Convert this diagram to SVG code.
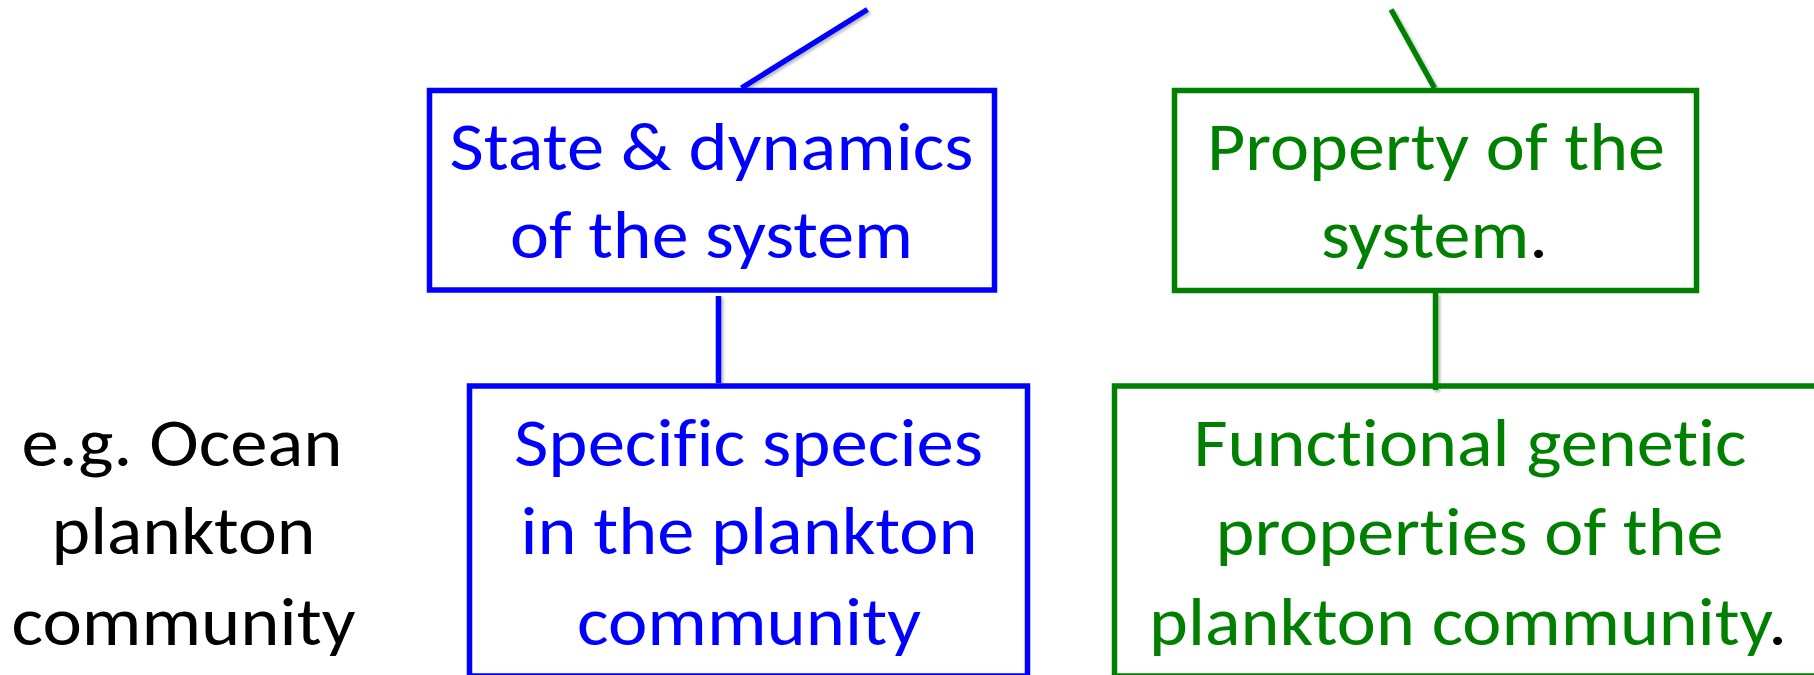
<svg xmlns="http://www.w3.org/2000/svg" width="1814" height="675" viewBox="0 0 1814 675">
  <defs>
    <filter id="soft-shadow" filterUnits="userSpaceOnUse" x="0" y="0" width="1814" height="675">
      <feDropShadow dx="2" dy="2" stdDeviation="1.8" flood-color="#000" flood-opacity="0.28"/>
    </filter>
  </defs>
  <style>
    .box { fill: none; stroke-width: 5.5; }
    .blue { stroke: #0000ff; }
    .green { stroke: #008000; }
    .wire { fill: none; stroke-width: 5.5; filter: url(#soft-shadow); }
    .lbl { font-family: Carlito, Lato, "Open Sans", sans-serif; font-size: 68px; text-anchor: middle; font-variant-ligatures: none; font-feature-settings: "liga" 0, "dlig" 0; }
    .t-blue { fill: #0000ff; }
    .t-green { fill: #008000; }
    .t-black { fill: #000000; }
  </style>

  <rect width="1814" height="675" fill="#ffffff"/>

  <!-- connectors -->
  <g id="connectors">
    <line class="wire blue" x1="867.5" y1="9.5" x2="741.5" y2="88"/>
    <line class="wire green" x1="1391" y1="9.5" x2="1434.5" y2="88"/>
    <line class="wire blue" x1="718.5" y1="296" x2="718.5" y2="383"/>
    <line class="wire green" x1="1435.5" y1="293" x2="1435.5" y2="390"/>
  </g>

  <!-- example caption on the left -->
  <g id="example-label">
    <text class="lbl t-black" x="182" y="466" textLength="321" lengthAdjust="spacingAndGlyphs">e.g. Ocean</text>
    <text class="lbl t-black" x="183.5" y="554" textLength="264" lengthAdjust="spacingAndGlyphs">plankton</text>
    <text class="lbl t-black" x="183.5" y="645" textLength="344" lengthAdjust="spacingAndGlyphs">community</text>
  </g>

  <g id="state-dynamics">
    <rect class="box blue" x="429.5" y="90.5" width="565" height="199.5"/>
    <text class="lbl t-blue" x="711.5" y="170" textLength="524" lengthAdjust="spacingAndGlyphs">State &amp; dynamics</text>
    <text class="lbl t-blue" x="711.5" y="258" textLength="403" lengthAdjust="spacingAndGlyphs">of the system</text>
  </g>

  <g id="property">
    <rect class="box green" x="1174.5" y="90.5" width="522" height="200"/>
    <text class="lbl t-green" x="1436" y="170" textLength="458" lengthAdjust="spacingAndGlyphs">Property of the</text>
    <text class="lbl t-green" x="1434.5" y="258" textLength="227" lengthAdjust="spacingAndGlyphs">system<tspan class="t-black">.</tspan></text>
  </g>

  <g id="specific-species">
    <rect class="box blue" x="469.5" y="386" width="558" height="290"/>
    <text class="lbl t-blue" x="748.5" y="466" textLength="469" lengthAdjust="spacingAndGlyphs">Specific species</text>
    <text class="lbl t-blue" x="749" y="554" textLength="457" lengthAdjust="spacingAndGlyphs">in the plankton</text>
    <text class="lbl t-blue" x="749" y="645" textLength="344" lengthAdjust="spacingAndGlyphs">community</text>
  </g>

  <g id="functional-genetic">
    <rect class="box green" x="1114.5" y="386" width="720" height="290"/>
    <text class="lbl t-green" x="1470" y="466" textLength="553" lengthAdjust="spacingAndGlyphs">Functional genetic</text>
    <text class="lbl t-green" x="1469.5" y="555" textLength="508" lengthAdjust="spacingAndGlyphs">properties of the</text>
    <text class="lbl t-green" x="1468" y="645" textLength="638" lengthAdjust="spacingAndGlyphs">plankton community<tspan class="t-black">.</tspan></text>
  </g>
</svg>
